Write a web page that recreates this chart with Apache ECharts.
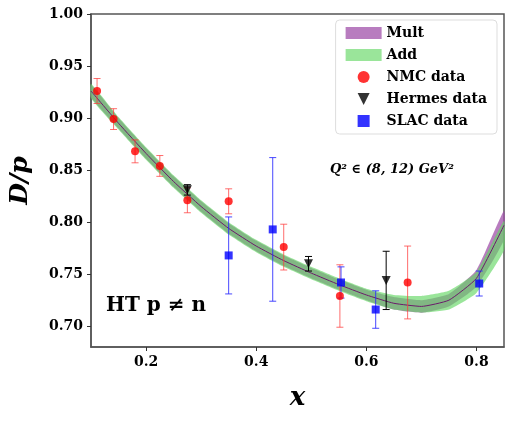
<!DOCTYPE html>
<html><head><meta charset="utf-8">
<script src="https://cdn.jsdelivr.net/npm/echarts@6/dist/echarts.min.js"></script>
<style>html,body{margin:0;background:#fff}#c{width:511px;height:444px}</style>
</head><body><div id="c"></div>
<script>
const curveX = [0.1, 0.15, 0.2, 0.25, 0.3, 0.35, 0.4, 0.45, 0.5, 0.55, 0.6, 0.65, 0.7, 0.75, 0.8, 0.85];
const curveY = [0.926, 0.895, 0.866, 0.839, 0.815, 0.794, 0.777, 0.763, 0.751, 0.740, 0.730, 0.722, 0.719, 0.725, 0.746, 0.797];
const multW = [0.006, 0.005, 0.005, 0.005, 0.005, 0.005, 0.005, 0.005, 0.005, 0.005, 0.005, 0.006, 0.006, 0.006, 0.008, 0.014];
const addW = [0.007, 0.006, 0.006, 0.006, 0.006, 0.006, 0.006, 0.006, 0.006, 0.006, 0.006, 0.007, 0.008, 0.009, 0.010, 0.014];
const addShift = [0, 0, 0, 0, 0, 0, 0, 0, 0, 0, 0, 0.001, 0.002, 0, -0.004, -0.01];
// [x, y, err]
const nmc = [[0.111,0.926,0.012],[0.141,0.899,0.010],[0.180,0.868,0.011],[0.225,0.854,0.010],[0.275,0.821,0.012],[0.350,0.820,0.012],[0.450,0.776,0.022],[0.552,0.729,0.030],[0.675,0.742,0.035]];
const hermes = [[0.275,0.831,0.005],[0.495,0.760,0.007],[0.636,0.744,0.028]];
const slac = [[0.350,0.768,0.037],[0.430,0.793,0.069],[0.554,0.742,0.015],[0.617,0.716,0.018],[0.805,0.741,0.012]];

const font = 'DejaVu Serif';
function band(w, shift) {
  return curveX.map((x, i) => [x, curveY[i] + shift[i] - w[i], curveY[i] + shift[i] + w[i]]);
}
function bandSeries(name, data, color) {
  return {
    name, type: 'custom', data, z: 1,
    renderItem: (params, api) => {
      if (params.dataIndex !== 0) return;
      const up = data.map(d => api.coord([d[0], d[2]]));
      const lo = data.map(d => api.coord([d[0], d[1]])).reverse();
      return {type: 'polygon', shape: {points: up.concat(lo), smooth: 0.15}, style: {fill: color}};
    },
    itemStyle: {color}
  };
}
function errSeries(data, color) {
  return {
    type: 'custom', data, z: 3, silent: true,
    renderItem: (params, api) => {
      const top = api.coord([api.value(0), api.value(1) + api.value(2)]);
      const bot = api.coord([api.value(0), api.value(1) - api.value(2)]);
      const s = {stroke: color, lineWidth: 1};
      return {type: 'group', children: [
        {type: 'line', shape: {x1: top[0], y1: top[1], x2: bot[0], y2: bot[1]}, style: s},
        {type: 'line', shape: {x1: top[0]-3.5, y1: top[1], x2: top[0]+3.5, y2: top[1]}, style: s},
        {type: 'line', shape: {x1: bot[0]-3.5, y1: bot[1], x2: bot[0]+3.5, y2: bot[1]}, style: s}
      ]};
    }
  };
}
const tri = 'path://M0,0 L10,0 L5,10 Z';
const chart = echarts.init(document.getElementById('c'));
chart.setOption({
  animation: false,
  grid: {left: 83, right: 7, top: 14, bottom: 97, show: true, borderColor: '#555', borderWidth: 1.5},
  xAxis: {type: 'value', min: 0.1, max: 0.85, interval: 0.2,
    axisLabel: {formatter: v => v.toFixed(1), fontFamily: font, fontWeight: 'bold', fontSize: 14, color: '#000', customValues: [0.2,0.4,0.6,0.8]},
    axisTick: {customValues: [0.2,0.4,0.6,0.8], length: 4, lineStyle: {color: '#333'}},
    axisLine: {lineStyle: {color: '#555', width: 1.5}},
    splitLine: {show: false},
    name: 'x', nameLocation: 'middle', nameGap: 38,
    nameTextStyle: {fontFamily: font, fontStyle: 'italic', fontWeight: 'bold', fontSize: 26, color: '#000'}},
  yAxis: {type: 'value', min: 0.68, max: 1.0,
    axisLabel: {formatter: v => v.toFixed(2), fontFamily: font, fontWeight: 'bold', fontSize: 14, color: '#000', customValues: [0.7,0.75,0.8,0.85,0.9,0.95,1.0]},
    axisTick: {customValues: [0.7,0.75,0.8,0.85,0.9,0.95,1.0], length: 4, lineStyle: {color: '#333'}},
    axisLine: {show: true, lineStyle: {color: '#555', width: 1.5}},
    splitLine: {show: false},
    name: 'D/p', nameLocation: 'middle', nameGap: 58, nameRotate: 90,
    nameTextStyle: {fontFamily: font, fontStyle: 'italic', fontWeight: 'bold', fontSize: 25, color: '#000'}},
  legend: {
    right: 14, top: 20, orient: 'vertical', itemGap: 8, itemWidth: 36, itemHeight: 12,
    backgroundColor: '#fff', borderColor: '#ddd', borderWidth: 1, borderRadius: 4, padding: [6, 10],
    textStyle: {fontFamily: font, fontWeight: 'bold', fontSize: 14, color: '#000'},
    data: [
      {name: 'Mult', icon: 'rect'},
      {name: 'Add', icon: 'rect'},
      {name: 'NMC data', icon: 'circle', itemStyle: {color: 'red'}},
      {name: 'Hermes data', icon: tri},
      {name: 'SLAC data', icon: 'path://M13,0 L23,0 L23,10 L13,10 Z'}
    ]
  },
  graphic: [
    {type: 'text', left: 330, top: 163, style: {text: 'Q² ∈ (8, 12) GeV²', font: 'bold italic 13px "DejaVu Serif"', fill: '#000'}},
    {type: 'text', left: 106, top: 296, style: {text: 'HT p ≠ n', font: 'bold 20px "DejaVu Serif"', fill: '#000'}}
  ],
  series: [
    bandSeries('Mult', band(multW, curveX.map(() => 0)), 'rgba(160,80,170,0.75)'),
    bandSeries('Add', band(addW, addShift), 'rgba(100,215,100,0.65)'),
    {type: 'line', data: curveX.map((x, i) => [x, curveY[i]]), smooth: 0.15, symbol: 'none', z: 2,
      lineStyle: {color: '#6a1a6a', width: 1}, silent: true},
    errSeries(nmc, 'rgba(255,60,60,0.75)'),
    errSeries(hermes, '#000'),
    errSeries(slac, 'rgba(40,40,255,0.85)'),
    {name: 'NMC data', type: 'scatter', data: nmc.map(d => [d[0], d[1]]), symbol: 'circle', symbolSize: 8, itemStyle: {color: 'red'}, z: 4},
    {name: 'Hermes data', type: 'scatter', data: hermes.map(d => [d[0], d[1]]), symbol: tri, symbolSize: 9, itemStyle: {color: '#000'}, z: 4},
    {name: 'SLAC data', type: 'scatter', data: slac.map(d => [d[0], d[1]]), symbol: 'rect', symbolSize: 8, itemStyle: {color: '#0000ff'}, z: 4}
  ]
});
</script></body></html>
